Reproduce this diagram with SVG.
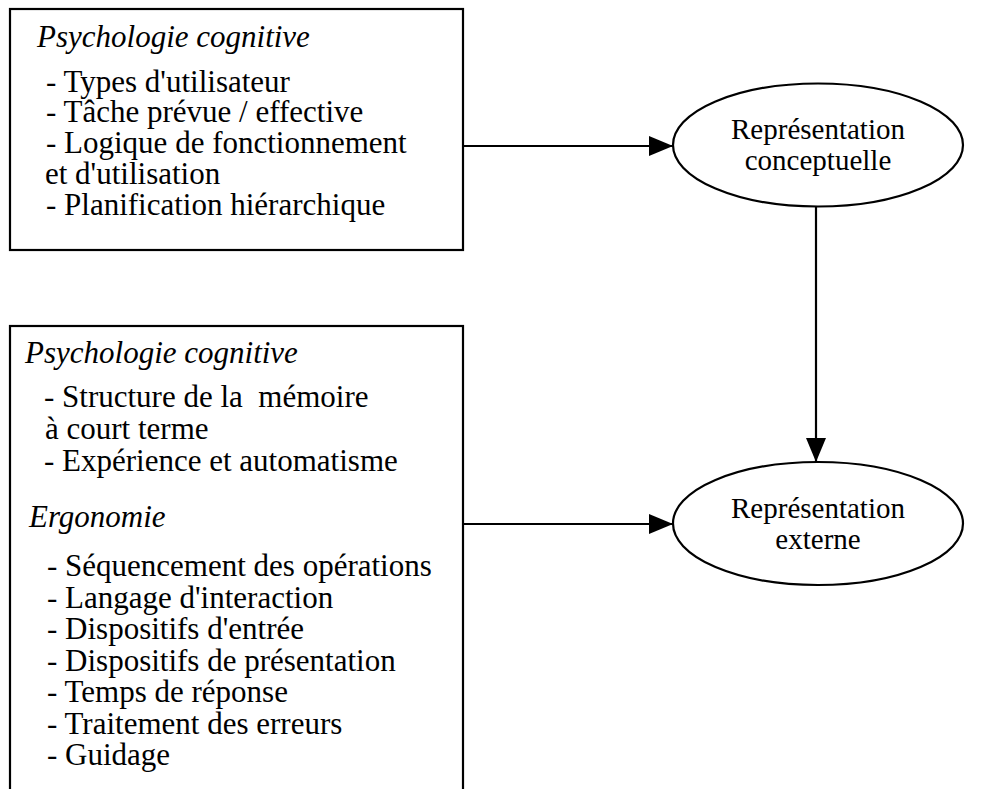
<svg xmlns="http://www.w3.org/2000/svg" width="999" height="789" viewBox="0 0 999 789">
  <style>
    .box { fill: #ffffff; stroke: #000000; stroke-width: 2.2; }
    .node { fill: #ffffff; stroke: #000000; stroke-width: 2.2; }
    .txt { font-family: "Liberation Serif", "Times New Roman", serif; font-size: 31px; fill: #000000; }
    .head { font-style: italic; }
    .lbl { font-family: "Liberation Serif", "Times New Roman", serif; font-size: 29px; fill: #000000; text-anchor: middle; }
    .edge { fill: none; stroke: #000000; stroke-width: 2.2; }
  </style>
  <defs>
    <marker id="arrow" markerUnits="userSpaceOnUse" markerWidth="24" markerHeight="20" refX="24" refY="10" orient="auto">
      <path d="M0,0 L24,10 L0,20 Z" fill="#000000"/>
    </marker>
  </defs>

  <rect width="999" height="789" fill="#ffffff"/>

  <!-- upper source box -->
  <g id="box-conceptual-sources">
    <rect class="box" x="10" y="9" width="453" height="241"/>
    <text class="txt head" x="37" y="47">Psychologie cognitive</text>
    <text class="txt" x="46" y="91.5">- Types d'utilisateur</text>
    <text class="txt" x="46" y="122.3">- Tâche prévue / effective</text>
    <text class="txt" x="46" y="153.1">- Logique de fonctionnement</text>
    <text class="txt" x="45" y="183.9">et d'utilisation</text>
    <text class="txt" x="46" y="214.7">- Planification hiérarchique</text>
  </g>

  <!-- lower source box (runs past the bottom edge) -->
  <g id="box-external-sources">
    <rect class="box" x="10" y="326" width="453" height="480"/>
    <text class="txt head" x="25" y="363">Psychologie cognitive</text>
    <text class="txt" x="44" y="407" xml:space="preserve">- Structure de la  mémoire</text>
    <text class="txt" x="45" y="439">à court terme</text>
    <text class="txt" x="44" y="471">- Expérience et automatisme</text>
    <text class="txt head" x="29" y="527">Ergonomie</text>
    <text class="txt" x="47" y="576">- Séquencement des opérations</text>
    <text class="txt" x="47" y="607.5">- Langage d'interaction</text>
    <text class="txt" x="47" y="639">- Dispositifs d'entrée</text>
    <text class="txt" x="47" y="670.5">- Dispositifs de présentation</text>
    <text class="txt" x="47" y="702">- Temps de réponse</text>
    <text class="txt" x="47" y="733.5">- Traitement des erreurs</text>
    <text class="txt" x="47" y="765">- Guidage</text>
  </g>

  <g id="node-conceptual">
    <ellipse class="node" cx="818" cy="145" rx="145" ry="61.5"/>
    <text class="lbl" x="818" y="139">Représentation</text>
    <text class="lbl" x="818" y="169.5">conceptuelle</text>
  </g>

  <g id="node-external">
    <ellipse class="node" cx="818" cy="523.5" rx="145" ry="61.5"/>
    <text class="lbl" x="818" y="518">Représentation</text>
    <text class="lbl" x="818" y="549">externe</text>
  </g>

  <g id="connectors">
    <line class="edge" x1="463" y1="146" x2="673" y2="146" marker-end="url(#arrow)"/>
    <line class="edge" x1="463" y1="524" x2="673" y2="524" marker-end="url(#arrow)"/>
    <line class="edge" x1="816" y1="206.5" x2="816" y2="462" marker-end="url(#arrow)"/>
  </g>
</svg>
